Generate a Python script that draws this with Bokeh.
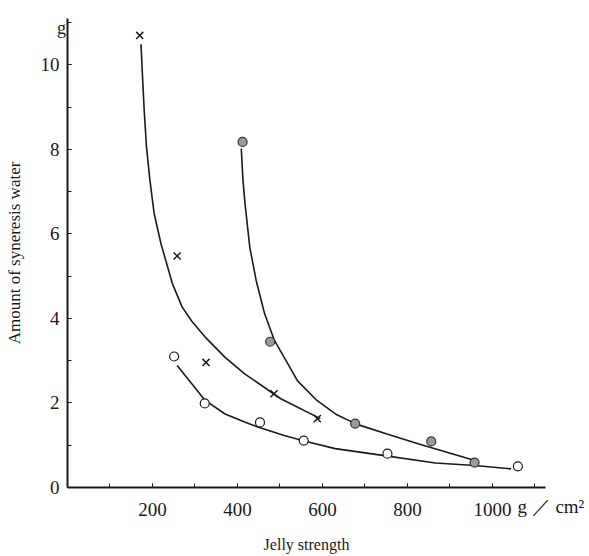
from bokeh.plotting import figure
from bokeh.models import FixedTicker, Label
from bokeh.embed import file_html
from bokeh.resources import INLINE

# Measured points
cross_x = [170, 258, 326, 486, 588]
cross_y = [10.7, 5.48, 2.96, 2.22, 1.63]
dot_x = [412, 477, 677, 856, 958]
dot_y = [8.18, 3.45, 1.51, 1.09, 0.59]
open_x = [251, 323, 453, 556, 753, 1060]
open_y = [3.10, 1.99, 1.54, 1.11, 0.80, 0.50]

# Hand-drawn fitted curves
cross_curve_x = [173, 177, 181, 186, 194, 204, 220, 247, 270, 293, 324, 371, 417, 479, 502, 595]
cross_curve_y = [10.49, 9.63, 8.84, 8.05, 7.27, 6.48, 5.77, 4.82, 4.27, 3.93, 3.56, 3.08, 2.69, 2.26, 2.10, 1.63]
dot_curve_x = [409, 413, 418, 429, 444, 464, 487, 514, 541, 587, 634, 680, 750, 827, 905, 965]
dot_curve_y = [8.02, 7.27, 6.70, 5.69, 4.90, 4.11, 3.48, 3.01, 2.53, 2.06, 1.72, 1.50, 1.27, 1.03, 0.80, 0.62]
open_curve_x = [258, 293, 324, 371, 417, 448, 510, 557, 630, 742, 866, 959, 1044]
open_curve_y = [2.89, 2.45, 2.06, 1.74, 1.55, 1.43, 1.23, 1.10, 0.92, 0.76, 0.58, 0.52, 0.44]

x_labels = [200, 400, 600, 800, 1000]
y_labels = [0, 2, 4, 6, 8, 10]
x_axis_end = 1125
y_axis_end = 11.1
y_unit = "g"
x_unit = "g ／ cm²"

FONT = "Liberation Serif"
INK = "#1a1a1a"

# page geometry (pixels)
W, H = 589, 556
AX_L, AX_R, AX_B, AX_T = 67, 545, 487, 18
sx = (AX_R - AX_L) / x_axis_end
sy = (AX_B - AX_T) / y_axis_end
x_range = (-AX_L / sx, (W - AX_L) / sx)
y_range = (-(H - AX_B) / sy, y_axis_end + AX_T / sy)
X_STANDOFF = 15

p = figure(width=W, height=H, x_range=x_range, y_range=y_range,
           output_backend="svg", toolbar_location=None, min_border=0)
p.outline_line_color = None
p.grid.grid_line_color = None
p.background_fill_color = "white"

p.xaxis.fixed_location = 0
p.yaxis.fixed_location = 0
p.xaxis.bounds = (0, x_axis_end)
p.yaxis.bounds = (0, y_axis_end)
p.xaxis.ticker = FixedTicker(ticks=x_labels, minor_ticks=list(range(100, 1200, 100)))
p.yaxis.ticker = FixedTicker(ticks=y_labels, minor_ticks=list(range(1, 12)))
for ax in (p.xaxis, p.yaxis):
    ax.axis_line_color = INK
    ax.axis_line_width = 2
    ax.major_tick_in = 4
    ax.major_tick_out = 0
    ax.minor_tick_in = 4
    ax.minor_tick_out = 0
    ax.major_tick_line_color = INK
    ax.minor_tick_line_color = INK
    ax.major_label_text_font = FONT
    ax.major_label_text_font_size = "19px"
    ax.major_label_text_color = INK
    ax.axis_label_text_font = FONT
    ax.axis_label_text_font_style = "normal"
    ax.axis_label_text_color = INK
p.xaxis.axis_label_text_font_size = "16px"
p.yaxis.axis_label_text_font_size = "17px"
p.xaxis.major_label_standoff = X_STANDOFF
p.yaxis.major_label_standoff = 8
p.xaxis.axis_label = "Jelly strength"
p.yaxis.axis_label = "Amount of syneresis water"
p.xaxis.axis_label_standoff = 17
p.yaxis.axis_label_standoff = 14

p.line(cross_curve_x, cross_curve_y, line_color=INK, line_width=1.6)
p.line(dot_curve_x, dot_curve_y, line_color=INK, line_width=1.6)
p.line(open_curve_x, open_curve_y, line_color=INK, line_width=1.6)

p.scatter(cross_x, cross_y, marker="x", size=10, line_color=INK, line_width=1.5)
p.scatter(dot_x, dot_y, marker="circle", size=9, fill_color="#9a9a9a",
          line_color="#333333", line_width=1.2)
p.scatter(open_x, open_y, marker="circle", size=9, fill_color="white",
          line_color=INK, line_width=1.2)

# unit texts: "g" at top of the y axis, "g / cm²" after the last x label
p.add_layout(Label(x=x_labels[-1], y=0, x_offset=25, y_offset=-(X_STANDOFF - 7),
                   text=x_unit, text_font=FONT, text_font_size="19px",
                   text_color=INK, text_baseline="top", text_align="left"))
p.add_layout(Label(x=0, y=y_axis_end, x_offset=-6, y_offset=-9,
                   text=y_unit, text_font=FONT, text_font_size="18px",
                   text_color=INK, text_baseline="middle", text_align="center"))

open("out.html", "w").write(file_html(p, INLINE))
